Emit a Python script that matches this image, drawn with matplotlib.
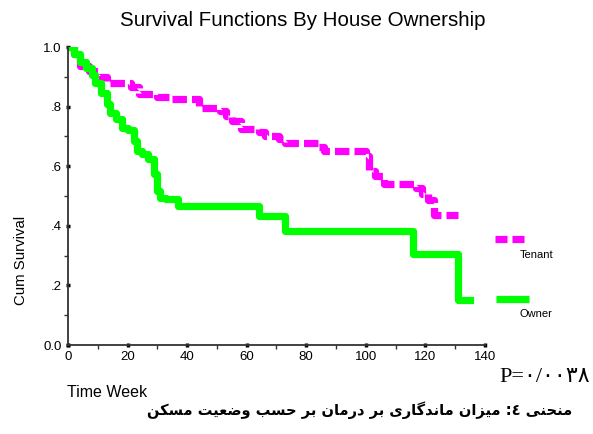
import matplotlib
matplotlib.use("Agg")
import matplotlib.pyplot as plt
import numpy as np

# Kaplan-Meier steps (time in weeks, cumulative survival)
tenant_t = [0, 2, 4, 7, 10, 13, 21, 24, 30, 34, 44, 51, 53, 55, 58, 64, 66, 71,
            73, 84, 86, 100, 101, 103, 106, 117, 119, 121, 123, 131]
tenant_s = [1.0, 0.975, 0.935, 0.92, 0.90, 0.878, 0.865, 0.843, 0.834, 0.826,
            0.794, 0.787, 0.77, 0.753, 0.726, 0.716, 0.703, 0.692, 0.678, 0.666,
            0.652, 0.635, 0.584, 0.566, 0.541, 0.527, 0.507, 0.486, 0.436, 0.436]

owner_t = [1, 2, 4, 6, 8, 9, 11, 13, 14, 16, 18, 20, 22, 23, 25, 27, 29, 30, 31,
           33, 37, 64, 73, 116, 131, 135]
owner_s = [1.0, 0.975, 0.95, 0.93, 0.905, 0.878, 0.845, 0.81, 0.78, 0.76, 0.73,
           0.72, 0.686, 0.652, 0.642, 0.625, 0.574, 0.517, 0.493, 0.49, 0.466,
           0.432, 0.382, 0.307, 0.152, 0.152]

xticks = [0, 20, 40, 60, 80, 100, 120, 140]
yticks = [0.0, 0.2, 0.4, 0.6, 0.8, 1.0]
ylabels = ["0.0", ".2", ".4", ".6", ".8", "1.0"]

caption = "منحنی ٤: میزان ماندگاری بر درمان بر حسب وضعیت مسکن"
pvalue = "P=۰/۰۰۳۸"

# matplotlib does not join arabic letters, so pick presentation forms by hand
# (isolated, final, initial, medial)
FORMS = {
    "ا": ("\uFE8D", "\uFE8E", None, None),
    "ب": ("\uFE8F", "\uFE90", "\uFE91", "\uFE92"),
    "ت": ("\uFE95", "\uFE96", "\uFE97", "\uFE98"),
    "ح": ("\uFEA1", "\uFEA2", "\uFEA3", "\uFEA4"),
    "د": ("\uFEA9", "\uFEAA", None, None),
    "ر": ("\uFEAD", "\uFEAE", None, None),
    "ز": ("\uFEAF", "\uFEB0", None, None),
    "س": ("\uFEB1", "\uFEB2", "\uFEB3", "\uFEB4"),
    "ض": ("\uFEBD", "\uFEBE", "\uFEBF", "\uFEC0"),
    "ع": ("\uFEC9", "\uFECA", "\uFECB", "\uFECC"),
    "م": ("\uFEE1", "\uFEE2", "\uFEE3", "\uFEE4"),
    "ن": ("\uFEE5", "\uFEE6", "\uFEE7", "\uFEE8"),
    "و": ("\uFEED", "\uFEEE", None, None),
    "ی": ("\uFBFC", "\uFBFD", "\uFBFE", "\uFBFF"),
    "گ": ("\uFB92", "\uFB93", "\uFB94", "\uFB95"),
    "ک": ("\uFB8E", "\uFB8F", "\uFB90", "\uFB91"),
}


def shape(txt):
    out = []
    for i, ch in enumerate(txt):
        if ch not in FORMS:
            out.append(ch)
            continue
        prev = txt[i - 1] if i > 0 else ""
        nxt = txt[i + 1] if i + 1 < len(txt) else ""
        jp = prev in FORMS and FORMS[prev][2] is not None
        jn = FORMS[ch][2] is not None and nxt in FORMS
        iso, fin, ini, med = FORMS[ch]
        if jp and jn:
            out.append(med)
        elif jp:
            out.append(fin)
        elif jn:
            out.append(ini)
        else:
            out.append(iso)
    return "".join(out)[::-1]


plt.rcParams['font.family'] = ['Liberation Sans', 'DejaVu Sans']

fig = plt.figure(figsize=(5.93, 4.34), dpi=100)
ax = fig.add_axes([0.1147, 0.205, 0.703, 0.6866])

ax.step(tenant_t, tenant_s, where='post', color='#FF00FF', lw=5.2,
        linestyle=(0, (2.0, 0.7)), solid_capstyle='butt', dash_capstyle='butt')
ax.step(owner_t, owner_s, where='post', color='#00FF00', lw=5.2)

ax.set_xlim(0, 140)
ax.set_ylim(0, 1.0)
ax.set_xticks(xticks)
ax.set_xticks(np.arange(10, 140, 20), minor=True)
ax.set_yticks(yticks)
ax.set_yticklabels(ylabels)
ax.set_yticks(np.arange(0.1, 1.0, 0.2), minor=True)
ax.tick_params(which='major', direction='inout', length=3, width=2.5, labelsize=9.5,
               color='black', pad=3)
ax.tick_params(which='minor', direction='out', length=3, width=1, color='#333333')
for s in ['top', 'right']:
    ax.spines[s].set_visible(False)
for s in ['left', 'bottom']:
    ax.spines[s].set_linewidth(1.3)
    ax.spines[s].set_color('#333333')
    ax.spines[s].set_clip_on(False)

fig.text(0.51, 0.952, "Survival Functions By House Ownership", ha='center', va='center',
         fontsize=14.8)
fig.text(0.035, 0.40, "Cum Survival", rotation=90, ha='center', va='center', fontsize=10.8)
fig.text(0.113, 0.096, "Time Week", ha='left', va='center', fontsize=11.5)

# legend samples on the right
ax.plot([1.025, 1.053], [0.355, 0.355], transform=ax.transAxes, clip_on=False,
        color='#FF00FF', lw=5.2, solid_capstyle='butt')
ax.plot([1.066, 1.094], [0.355, 0.355], transform=ax.transAxes, clip_on=False,
        color='#FF00FF', lw=5.2, solid_capstyle='butt')
ax.text(1.083, 0.302, "Tenant", transform=ax.transAxes, fontsize=8, va='center')
ax.plot([1.027, 1.106], [0.155, 0.155], transform=ax.transAxes, clip_on=False,
        color='#00FF00', lw=5.2, solid_capstyle='butt')
ax.text(1.083, 0.105, "Owner", transform=ax.transAxes, fontsize=8, va='center')

fig.text(0.995, 0.13, pvalue, ha='right', va='center', fontsize=16,
         family=['Liberation Serif', 'DejaVu Sans'])
fig.text(0.607, 0.055, shape(caption), ha='center', va='center', fontsize=10.5,
         fontweight='bold', family=['DejaVu Sans'])

fig.savefig("out.png", dpi=100)
